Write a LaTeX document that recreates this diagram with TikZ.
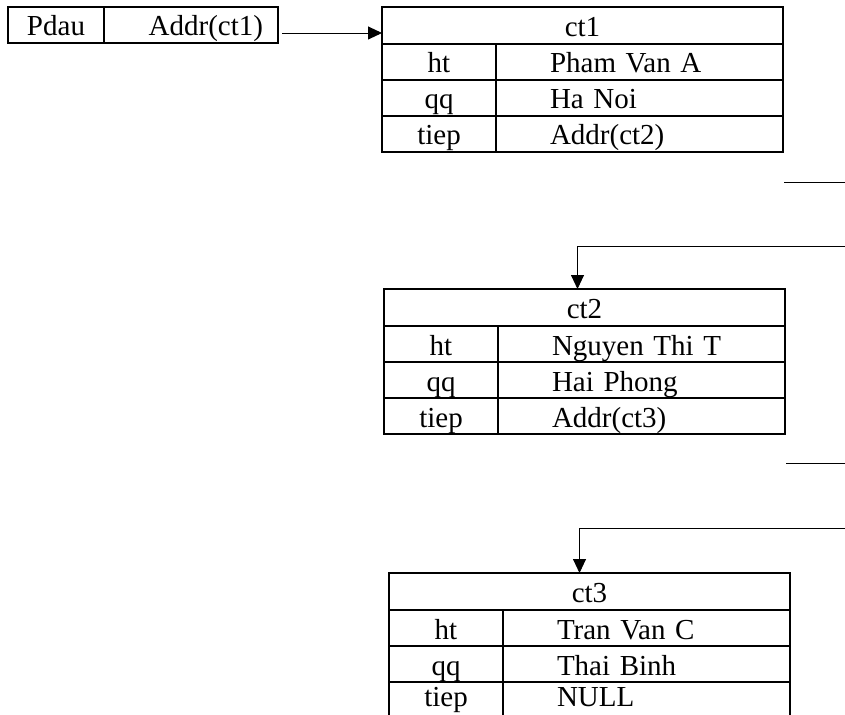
\documentclass[tikz,border=0pt]{standalone}
\usepackage{fontspec}
\setmainfont{Liberation Serif}
\usetikzlibrary{positioning,arrows.meta}
\tikzset{
    cellBase/.style={
        draw,
        line width=1.2pt,
        inner sep=0pt,
        outer sep=0pt,
        minimum height=36pt,
        text height=24pt,
        text depth=2pt,
        font=\fontsize{29}{31}\selectfont
    },
    % Record cells
    recHead/.style={cellBase, minimum width=401pt, minimum height=37pt},
    recKey/.style={cellBase, minimum width=114pt},
    recVal/.style={cellBase, minimum width=287pt, text width=179pt, inner xsep=54pt, align=left},
    recLast/.style={text depth=12pt},
    % Head pointer cells
    ptrKey/.style={cellBase, minimum width=96pt},
    ptrVal/.style={cellBase, minimum width=174pt, text width=144pt, inner xsep=15pt, align=right},
    % Lines
    link/.style={-{Triangle[length=14pt,width=13pt]}, line width=0.9pt},
    stub/.style={line width=0.9pt}
}
\begin{document}
\begin{tikzpicture}[x=1pt,y=-1pt]
\useasboundingbox (0,0) rectangle (845,714);
\clip (0,0) rectangle (845,714);

% head pointer
\node[ptrKey, anchor=north west] (pdau) at (8,7) {Pdau};
\node[ptrVal, right=0pt of pdau] (pdauAddr) {Addr(ct1)};

% record ct1
\node[recHead, anchor=north west] (ct1) at (382,7) {ct1};
\node[recKey, below right=0pt and 0pt of ct1.south west] (ct1ht) {ht};
\node[recVal, right=0pt of ct1ht] (ct1htv) {Pham Van A};
\node[recKey, below=0pt of ct1ht] (ct1qq) {qq};
\node[recVal, right=0pt of ct1qq] (ct1qqv) {Ha Noi};
\node[recKey, below=0pt of ct1qq] (ct1tiep) {tiep};
\node[recVal, right=0pt of ct1tiep] (ct1tiepv) {Addr(ct2)};

% record ct2
\node[recHead, anchor=north west] (ct2) at (384,289) {ct2};
\node[recKey, below right=0pt and 0pt of ct2.south west] (ct2ht) {ht};
\node[recVal, right=0pt of ct2ht] (ct2htv) {Nguyen Thi T};
\node[recKey, below=0pt of ct2ht] (ct2qq) {qq};
\node[recVal, right=0pt of ct2qq] (ct2qqv) {Hai Phong};
\node[recKey, below=0pt of ct2qq] (ct2tiep) {tiep};
\node[recVal, right=0pt of ct2tiep] (ct2tiepv) {Addr(ct3)};

% record ct3 (cut off at the page edge)
\node[recHead, anchor=north west] (ct3) at (389,573) {ct3};
\node[recKey, below right=0pt and 0pt of ct3.south west] (ct3ht) {ht};
\node[recVal, right=0pt of ct3ht] (ct3htv) {Tran Van C};
\node[recKey, below=0pt of ct3ht] (ct3qq) {qq};
\node[recVal, right=0pt of ct3qq] (ct3qqv) {Thai Binh};
\node[recKey, recLast, below=0pt of ct3qq] (ct3tiep) {tiep};
\node[recVal, recLast, right=0pt of ct3tiep] (ct3tiepv) {NULL};

% links
\draw[link] ([xshift=4pt,yshift=-8pt]pdauAddr.east) -- ([yshift=-8pt]pdauAddr.east -| ct1.west);

\coordinate (cut1a) at (845,182);
\coordinate (cut1b) at (845,246);
\draw[stub] ([xshift=1pt]ct1.east |- cut1a) -- (cut1a);
\draw[link] (cut1b) -| ([xshift=-7pt]ct2.north);

\coordinate (cut2a) at (845,463);
\coordinate (cut2b) at (845,528);
\draw[stub] ([xshift=1pt]ct2.east |- cut2a) -- (cut2a);
\draw[link] (cut2b) -| ([xshift=-10pt]ct3.north);
\end{tikzpicture}
\end{document}
